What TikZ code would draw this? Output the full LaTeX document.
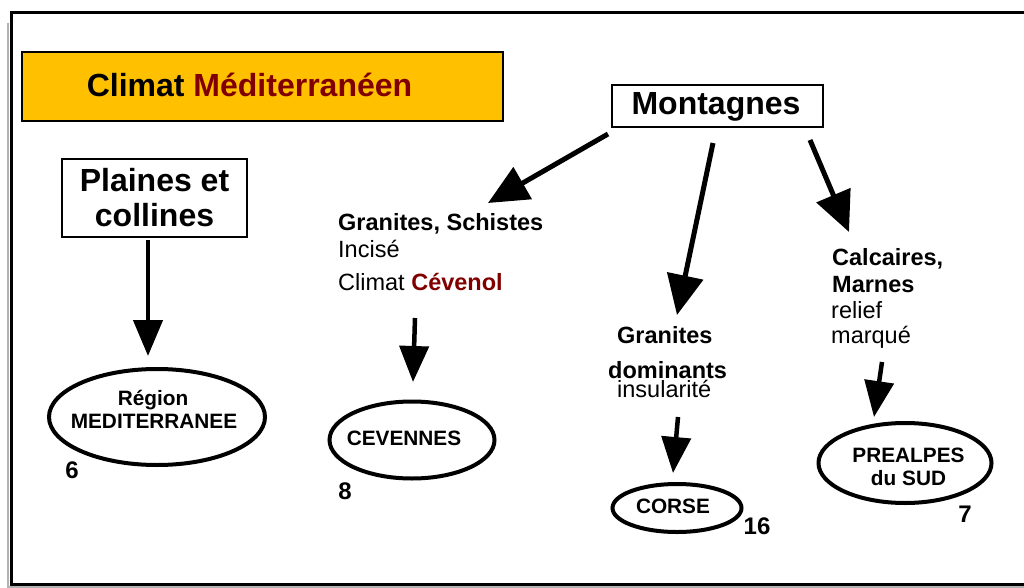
\documentclass[tikz,border=0pt]{standalone}
\usepackage{fontspec}
\setmainfont{Liberation Sans}
\usetikzlibrary{arrows.meta,shapes.geometric}
\definecolor{gold}{RGB}{255,192,0}
\definecolor{darkred}{RGB}{128,0,0}
\begin{document}
\begin{tikzpicture}[x=1pt,y=-1pt,
  arr/.style={line width=4.5pt,-{Triangle[length=36pt,width=29pt]}},
  bigarr/.style={line width=5pt,-{Triangle[length=40pt,width=36pt]}},
  box/.style={draw,line width=2pt,inner sep=0pt},
  oval/.style={draw,ellipse,line width=4pt,inner sep=0pt,align=center},
  big/.style={font=\fontsize{32}{35}\selectfont\bfseries},
  mid/.style={font=\fontsize{23.5}{26}\selectfont,inner sep=0pt,anchor=base west},
  midb/.style={font=\fontsize{23.5}{26}\selectfont\bfseries,inner sep=0pt,anchor=base west},
  small/.style={font=\fontsize{20.8}{23}\selectfont\bfseries},
  num/.style={font=\fontsize{24}{26}\selectfont\bfseries,inner sep=0pt},
]
\useasboundingbox (0,0) rectangle (1024,588);
% frame
\draw[gray!60,line width=2pt] (8,23) -- (8,587) -- (1030,587);
\draw[line width=3pt] (1030,12.5) -- (11.5,12.5) -- (11.5,584.5) -- (1030,584.5);

% title
\node[box,fill=gold,minimum width=481pt,minimum height=69pt] (climat) at (262.5,86.5) {};
\node[big,inner sep=0pt,anchor=base] (climattxt) at (249.5,97) {Climat \textcolor{darkred}{Méditerranéen}};

% boxes
\node[box,minimum width=211pt,minimum height=42pt] (montagnes) at (717.5,106) {};
\node[big,inner sep=0pt,anchor=base] (montxt) at (716,115) {Montagnes};
\node[box,big,minimum width=185pt,minimum height=78pt,align=center] (plaines) at (154.5,198) {Plaines et\\collines};

% ellipses
\node[oval,minimum width=216pt,minimum height=96pt] (region) at (157,417) {};
\node[small,inner sep=0pt,anchor=base] (regtxt1) at (153,405) {Région};
\node[small,inner sep=0pt,anchor=base] (regtxt2) at (154,428) {MEDITERRANEE};
\node[oval,minimum width=165pt,minimum height=77pt] (cevennes) at (412,440) {};
\node[small,inner sep=0pt,anchor=base] (cevtxt) at (404,445) {CEVENNES};
\node[oval,minimum width=129pt,minimum height=48pt] (corse) at (677,508) {};
\node[small,inner sep=0pt,anchor=base] (corsetxt) at (673,513) {CORSE};
\node[oval,minimum width=173pt,minimum height=80pt] (prealpes) at (905,463) {};
\node[small,inner sep=0pt,anchor=base] (pretxt1) at (908.5,462) {PREALPES};
\node[small,inner sep=0pt,anchor=base] (pretxt2) at (908.5,485) {du SUD};

% numbers
\node[num] (n6) at (72,470) {6};
\node[num] (n8) at (345,491) {8};
\node[num] (n16) at (757,526) {16};
\node[num] (n7) at (965,514) {7};

% middle texts
\node[midb] (gs) at (338,230) {Granites, Schistes};
\node[mid] (incise) at (338,257) {Incisé};
\node[mid] (cliccev) at (338,290) {Climat \textbf{\textcolor{darkred}{Cévenol}}};
\node[midb] (gran) at (617,343) {Granites};
\node[midb] (domin) at (608,378) {dominants};
\node[mid] (insul) at (617,397) {insularité};
\node[midb] (calc) at (832,265) {Calcaires,};
\node[midb] (marnes) at (832,292) {Marnes};
\node[mid] (relief) at (831,318) {relief};
\node[mid] (marque) at (831,343) {marqué};

% arrow end points
\coordinate (p1) at (148,240);
\coordinate (p2) at (148,356);
\coordinate (c1) at (415,318);
\coordinate (c2) at (413,382);
\coordinate (a1) at (608,134);
\coordinate (a2) at (488,203);
\coordinate (b1) at (713,143);
\coordinate (b2) at (677,315);
\coordinate (d1) at (810,140);
\coordinate (d2) at (849,232);
\coordinate (e1) at (678,417);
\coordinate (e2) at (673,473);
\coordinate (f1) at (882,362);
\coordinate (f2) at (874,417);

\draw[arr] (p1) -- (p2);
\draw[arr] (c1) -- (c2);
\draw[bigarr] (a1) -- (a2);
\draw[bigarr] (b1) -- (b2);
\draw[bigarr] (d1) -- (d2);
\draw[arr] (e1) -- (e2);
\draw[arr] (f1) -- (f2);
\end{tikzpicture}
\end{document}
